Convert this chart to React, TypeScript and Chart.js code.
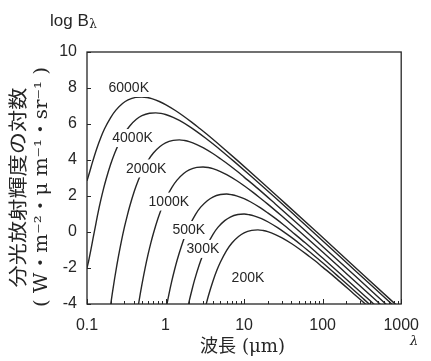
import React, { useEffect, useRef } from "react";
import { Chart, registerables } from "chart.js";

Chart.register(...registerables);

// ---- data (wavelength in µm, log10 of spectral radiance) ----
const wl6000 = [0.1, 0.1083, 0.1167, 0.1333, 0.15, 0.1667, 0.2, 0.2333, 0.2833, 0.3333, 0.4167, 0.5, 0.5833, 0.6667, 0.8333, 1, 1.333, 1.667, 2.167, 2.667, 3.333, 5, 8.333, 16.67, 33.33, 83.33, 166.7, 333.3, 833.3, 1667];
const lb6000 = [2.85, 3.35, 3.84, 4.64, 5.25, 5.72, 6.36, 6.77, 7.14, 7.34, 7.48, 7.5, 7.47, 7.41, 7.25, 7.08, 6.75, 6.46, 6.09, 5.78, 5.44, 4.79, 3.95, 2.78, 1.59, 0.01, -1.19, -2.4, -3.99, -5.19];

const wl4000 = [0.1, 0.105, 0.1125, 0.12, 0.125, 0.1375, 0.15, 0.1625, 0.175, 0.2, 0.225, 0.25, 0.3, 0.35, 0.425, 0.5, 0.625, 0.75, 0.875, 1, 1.25, 1.5, 2, 2.5, 3.25, 4, 5, 7.5, 12.5, 25, 50, 125, 250, 500, 1250];
const lb4000 = [-2.0, -1.6, -0.95, -0.3, 0.09, 1.02, 1.78, 2.41, 2.93, 3.76, 4.37, 4.84, 5.48, 5.89, 6.26, 6.46, 6.6, 6.62, 6.59, 6.53, 6.37, 6.2, 5.87, 5.58, 5.21, 4.9, 4.56, 3.91, 3.07, 1.9, 0.71, -0.87, -2.08, -3.28, -4.87];

const wl2000 = [0.19, 0.2, 0.21, 0.225, 0.24, 0.25, 0.275, 0.3, 0.325, 0.35, 0.4, 0.45, 0.5, 0.6, 0.7, 0.85, 1, 1.25, 1.5, 1.75, 2, 2.5, 3, 4, 5, 6.5, 8, 10, 15, 25, 50, 100, 250, 500, 1000];
const lb2000 = [-4.76, -4.05, -3.41, -2.57, -1.84, -1.41, -0.48, 0.28, 0.9, 1.43, 2.26, 2.87, 3.33, 3.98, 4.39, 4.75, 4.95, 5.09, 5.12, 5.08, 5.02, 4.86, 4.69, 4.36, 4.07, 3.71, 3.4, 3.05, 2.41, 1.56, 0.39, -0.8, -2.38, -3.58, -4.78];

const wl1000 = [0.42, 0.45, 0.48, 0.5, 0.55, 0.6, 0.65, 0.7, 0.8, 0.9, 1, 1.2, 1.4, 1.7, 2, 2.5, 3, 3.5, 4, 5, 6, 8, 10, 13, 16, 20, 30, 50, 100, 200, 500, 1000];
const lb1000 = [-4.92, -4.08, -3.35, -2.92, -1.99, -1.23, -0.6, -0.08, 0.75, 1.36, 1.83, 2.47, 2.88, 3.25, 3.45, 3.59, 3.61, 3.58, 3.52, 3.36, 3.19, 2.86, 2.57, 2.2, 1.89, 1.55, 0.9, 0.06, -1.11, -2.3, -3.88, -5.09];

const wl500 = [1, 1.1, 1.2, 1.3, 1.4, 1.6, 1.8, 2, 2.4, 2.8, 3.4, 4, 5, 6, 7, 8, 10, 12, 16, 20, 26, 32, 40, 60, 100, 200, 400, 1000];
const lb500 = [-4.42, -3.49, -2.73, -2.11, -1.58, -0.76, -0.14, 0.32, 0.97, 1.38, 1.74, 1.94, 2.08, 2.11, 2.07, 2.01, 1.85, 1.68, 1.35, 1.06, 0.7, 0.39, 0.04, -0.6, -1.45, -2.62, -3.81, -5.39];

const wl300 = [1.833, 2, 2.167, 2.333, 2.667, 3, 3.333, 4, 4.667, 5.667, 6.667, 8.333, 10, 11.67, 13.33, 16.67, 20, 26.67, 33.33, 43.33, 53.33, 66.67, 100, 166.7, 333.3, 500];
const lb300 = [-4.6, -3.84, -3.22, -2.69, -1.86, -1.25, -0.79, -0.14, 0.27, 0.63, 0.83, 0.97, 1.0, 0.96, 0.9, 0.74, 0.57, 0.24, -0.05, -0.41, -0.72, -1.07, -1.71, -2.56, -3.73, -4.42];

const wl200 = [3.25, 3.5, 4, 4.5, 5, 6, 7, 8.5, 10, 12.5, 15, 17.5, 20, 25, 30, 40, 50, 65, 80, 100, 150, 250, 350, 500];
const lb200 = [-4.1, -3.57, -2.75, -2.13, -1.67, -1.02, -0.61, -0.25, -0.05, 0.09, 0.12, 0.08, 0.02, -0.14, -0.31, -0.64, -0.93, -1.3, -1.6, -1.95, -2.59, -3.44, -4.0, -4.61];

const curveNames = ["6000K", "4000K", "2000K", "1000K", "500K", "300K", "200K"];
const curveWl = [wl6000, wl4000, wl2000, wl1000, wl500, wl300, wl200];
const curveLb = [lb6000, lb4000, lb2000, lb1000, lb500, lb300, lb200];

// label anchors in data coordinates
const labelWl = [0.34, 0.38, 0.566, 1.1, 1.98, 2.99, 11.2];
const labelLog = [8.0, 5.22, 3.53, 1.69, 0.11, -0.94, -2.53];

const xTickValues = [0.1, 1, 10, 100, 1000];
const xTickLabels = ["0.1", "1", "10", "100", "1000"];
const yMin = -4;
const yMax = 10;
const yStep = 2;

const topTitle = "log B";
const topSub = "λ";
const yTitle = "分光放射輝度の対数";
const yUnit = "( W・m⁻²・μ m⁻¹・sr⁻¹ )";
const xTitle = "波長 (μm)";
const xEndSymbol = "λ";

const INK = "#262626";
const SANS = "'Liberation Sans', Arial, sans-serif";
const SERIF = "'DejaVu Serif', 'Noto Sans CJK JP', serif";

function fitText(ctx: CanvasRenderingContext2D, text: string, cx: number, cy: number, len: number, rot: number) {
  ctx.save();
  ctx.translate(cx, cy);
  ctx.rotate(rot);
  const w = ctx.measureText(text).width;
  ctx.scale(len / w, 1);
  ctx.textAlign = "center";
  ctx.textBaseline = "middle";
  ctx.fillText(text, 0, 0);
  ctx.restore();
}

const overlay = {
  id: "overlay",
  afterDatasetsDraw(chart: any) {
    const { ctx, chartArea: a, scales } = chart;
    const xs = scales.x;
    const ys = scales.y;
    ctx.save();
    ctx.font = `14px ${SANS}`;
    ctx.textAlign = "center";
    ctx.textBaseline = "middle";
    curveNames.forEach((t, i) => {
      const px = xs.getPixelForValue(labelWl[i]);
      const py = ys.getPixelForValue(labelLog[i]);
      const w = ctx.measureText(t).width;
      ctx.fillStyle = "#ffffff";
      ctx.fillRect(px - w / 2 - 1, py - 9, w + 2, 18);
      ctx.fillStyle = INK;
      ctx.fillText(t, px, py + 0.5);
    });
    ctx.strokeStyle = INK;
    ctx.lineWidth = 1.3;
    ctx.strokeRect(a.left, a.top, a.right - a.left, a.bottom - a.top);
    ctx.lineWidth = 1;
    for (let v = yMin; v <= yMax; v += yStep) {
      const py = Math.round(ys.getPixelForValue(v)) + 0.5;
      ctx.beginPath();
      ctx.moveTo(a.left, py);
      ctx.lineTo(a.left + 4, py);
      ctx.stroke();
    }
    for (let d = 0; d < xTickValues.length; d++) {
      const dec = xTickValues[d];
      const px = Math.round(xs.getPixelForValue(dec)) + 0.5;
      ctx.beginPath();
      ctx.moveTo(px, a.bottom);
      ctx.lineTo(px, a.bottom - 5);
      ctx.stroke();
      if (d < xTickValues.length - 1) {
        for (let k = 2; k <= 9; k++) {
          const mx = Math.round(xs.getPixelForValue(dec * k)) + 0.5;
          ctx.beginPath();
          ctx.moveTo(mx, a.bottom);
          ctx.lineTo(mx, a.bottom - 3);
          ctx.stroke();
        }
      }
    }
    ctx.restore();
  },
  afterDraw(chart: any) {
    const { ctx } = chart;
    ctx.save();
    ctx.fillStyle = INK;
    ctx.font = `17px ${SANS}`;
    ctx.textAlign = "left";
    ctx.textBaseline = "alphabetic";
    ctx.fillText(topTitle, 50, 26);
    const tw = ctx.measureText(topTitle).width;
    ctx.font = `12px ${SERIF}`;
    ctx.fillText(topSub, 50 + tw + 0.5, 28);
    ctx.font = `19px 'Noto Sans CJK JP', sans-serif`;
    fitText(ctx, yTitle, 18, 187.5, 200, -Math.PI / 2);
    ctx.font = `18px ${SERIF}`;
    fitText(ctx, yUnit, 42, 187, 240, -Math.PI / 2);
    ctx.font = `18px ${SERIF}`;
    fitText(ctx, xTitle, 242.5, 347, 85, 0);
    ctx.font = `italic 13px ${SERIF}`;
    ctx.textAlign = "center";
    ctx.textBaseline = "middle";
    ctx.fillText(xEndSymbol, 414, 342);
    ctx.restore();
  },
};

export default function App() {
  const ref = useRef<HTMLCanvasElement | null>(null);
  useEffect(() => {
    if (!ref.current) return;
    const datasets = curveNames.map((name, i) => ({
      label: name,
      data: curveWl[i].map((w, j) => ({ x: w, y: curveLb[i][j] })),
      borderColor: INK,
      borderWidth: 1.4,
      pointRadius: 0,
      fill: false,
      cubicInterpolationMode: "monotone" as const,
    }));
    const chart = new Chart(ref.current, {
      type: "line",
      data: { datasets },
      options: {
        animation: false,
        responsive: false,
        maintainAspectRatio: false,
        devicePixelRatio: 1,
        layout: { padding: { left: 0, right: 20, top: 52, bottom: 0 } },
        plugins: { legend: { display: false }, tooltip: { enabled: false } },
        scales: {
          x: {
            type: "logarithmic",
            min: 0.1,
            max: 1000,
            grid: { display: false, drawTicks: false },
            border: { display: false },
            afterBuildTicks: (s: any) => {
              s.ticks = xTickValues.map((v) => ({ value: v }));
            },
            afterFit: (s: any) => {
              s.height = 57;
            },
            ticks: {
              autoSkip: false,
              maxRotation: 0,
              minRotation: 0,
              padding: 12,
              color: INK,
              font: { family: SANS, size: 16 },
              callback: (_v: any, i: number) => xTickLabels[i],
            },
          },
          y: {
            type: "linear",
            min: yMin,
            max: yMax,
            grid: { display: false, drawTicks: false },
            border: { display: false },
            afterFit: (s: any) => {
              s.width = 87;
            },
            ticks: {
              stepSize: yStep,
              padding: 10,
              color: INK,
              font: { family: SANS, size: 16 },
            },
          },
        },
      },
      plugins: [overlay],
    });
    return () => chart.destroy();
  }, []);
  return (
    <div style={{ position: "fixed", left: 0, top: 0, width: 431, height: 361, background: "#fff" }}>
      <canvas ref={ref} width={431} height={361} style={{ display: "block", width: 431, height: 361 }} />
    </div>
  );
}
